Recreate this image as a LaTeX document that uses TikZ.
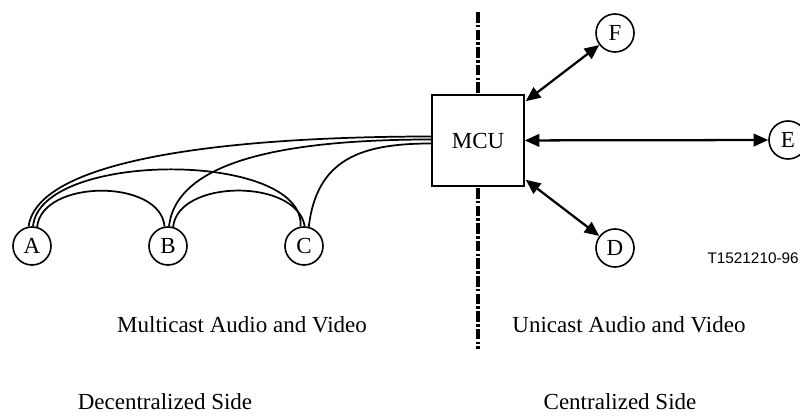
\documentclass[tikz,border=0pt]{standalone}
\usepackage{fontspec}
\setmainfont{Liberation Serif}
\newfontfamily\arialfont{Liberation Sans}
\usetikzlibrary{arrows.meta,calc}
\begin{document}
\begin{tikzpicture}[x=0.75pt,y=-0.75pt,
  big/.style={font=\fontsize{17.25}{20}\selectfont},
  term/.style={circle,draw,line width=1.2pt,minimum size=28.5pt,inner sep=0pt,big},
  mcubox/.style={rectangle,draw,fill=white,line width=1.2pt,minimum width=69pt,minimum height=68.25pt,inner sep=0pt,big},
  lbl/.style={anchor=base,inner sep=0pt,big},
  link/.style={line width=1.3pt},
  arr/.style={line width=1.7pt,{Triangle[length=11pt,width=9.5pt]}-{Triangle[length=11pt,width=9.5pt]}},
  divider/.style={line width=2.4pt,dash pattern=on 8pt off 1.6pt on 2pt off 1.6pt}]
\useasboundingbox (0,0) rectangle (800,417);
% divider
\coordinate (dtop) at (478,12);
\coordinate (dbot) at (478,349);
\draw[divider] (dtop) -- (dbot);
% nodes
\node[term] (A) at (32,246) {A};
\node[term] (B) at (168,246) {B};
\node[term] (C) at (304,246) {C};
\node[mcubox] (M) at (478,140.5) {MCU};
\node[term] (F) at (615,33) {F};
\node[term] (E) at (788,140) {E};
\node[term] (D) at (615,248) {D};
% multicast links
\draw[link] (A.100) .. controls +(10,-72) and +(-180,0) .. ($(M.west)+(0,-4)$);
\draw[link] (A.87) .. controls +(7,-76) and +(5,-76) .. (C.100);
\draw[link] (A.75) .. controls +(5,-48) and +(-4,-48) .. (B.100);
\draw[link] (B.87) .. controls +(8,-70) and +(-130,0) .. ($(M.west)+(0,-1)$);
\draw[link] (B.75) .. controls +(5,-48) and +(-8,-48) .. (C.88);
\draw[link] (C.76) .. controls +(8,-68) and +(-70,0) .. ($(M.west)+(0,3)$);
% unicast links
\draw[arr] ($(M.north east)+(1,7)$) -- (F);
\draw[arr] (M) -- (E);
\draw[arr] ($(M.south east)+(1,-7)$) -- (D);
% labels
\node[lbl] (mav) at (242,332) {Multicast Audio and Video};
\node[lbl] (uav) at (629,332) {Unicast Audio and Video};
\node[lbl] (dec) at (165,409) {Decentralized Side};
\node[lbl] (cen) at (620,409) {Centralized Side};
\node[anchor=base east,inner sep=0pt,font=\arialfont\fontsize{11.5}{13}\selectfont] (tag) at (799,263) {T1521210-96};
\end{tikzpicture}
\end{document}
